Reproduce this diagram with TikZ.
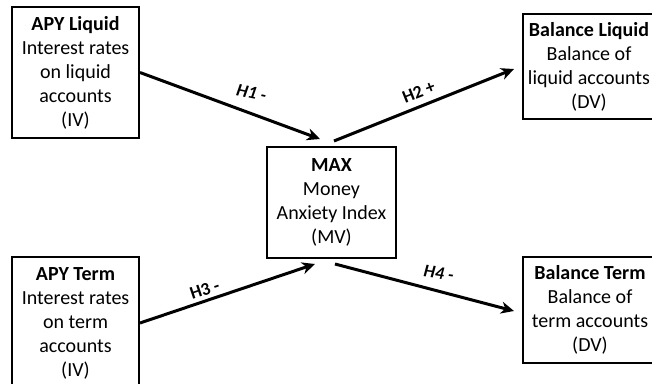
\documentclass[tikz,border=0pt]{standalone}
\usepackage{fontspec}
\setmainfont{Carlito}
\usetikzlibrary{arrows.meta,calc}
\begin{document}
\begin{tikzpicture}[x=1pt,y=-1pt,
  varbox/.style={draw=black,line width=2pt,rectangle,align=center,inner sep=0pt,
    font=\fontsize{20}{24}\selectfont},
  link/.style={line width=3pt,-{Stealth[length=13pt,width=12pt,inset=4pt]}},
  hyp/.style={font=\fontsize{18}{20}\selectfont\bfseries,inner sep=0pt}]
\clip (0,0) rectangle (652,383);
\fill[white] (0,0) rectangle (652,383);
\node[varbox,minimum width=127pt,minimum height=131pt] (apyl) at (75.5,72.5)
  {\textbf{APY Liquid}\\Interest rates\\on liquid\\accounts\\(IV)};
\node[varbox,minimum width=132pt,minimum height=105pt] (bl) at (589,66.5)
  {\textbf{Balance Liquid}\\Balance of\\liquid accounts\\(DV)};
\node[varbox,minimum width=129pt,minimum height=111pt] (max) at (331.5,202.5)
  {\textbf{MAX}\\Money\\Anxiety Index\\(MV)};
\node[varbox,minimum width=127pt,minimum height=132pt] (apyt) at (75.5,323)
  {\textbf{APY Term}\\Interest rates\\on term\\accounts\\(IV)};
\node[varbox,minimum width=134pt,minimum height=106pt] (bt) at (590,310)
  {\textbf{Balance Term}\\Balance of\\term accounts\\(DV)};
\draw[link] (apyl.east) -- ($(max.north)+(-11.5,-7)$)
  node[hyp,pos=0.62,yshift=21pt,rotate=-12] {\itshape H1 -};
\draw[link] ($(max.north)+(2.5,-5)$) -- ($(bl.west)+(-8,2.5)$)
  node[hyp,pos=0.5,sloped,yshift=14pt] {H2 +};
\draw[link] (apyt.east) -- ($(max.south)+(-16.5,5)$)
  node[hyp,pos=0.39,sloped,yshift=11pt] {H3 -};
\draw[link] ($(max.south)+(3.5,5)$) -- ($(bt.west)+(-8,1)$)
  node[hyp,pos=0.58,yshift=18pt,rotate=-8] {\itshape H4 -};
\end{tikzpicture}
\end{document}
